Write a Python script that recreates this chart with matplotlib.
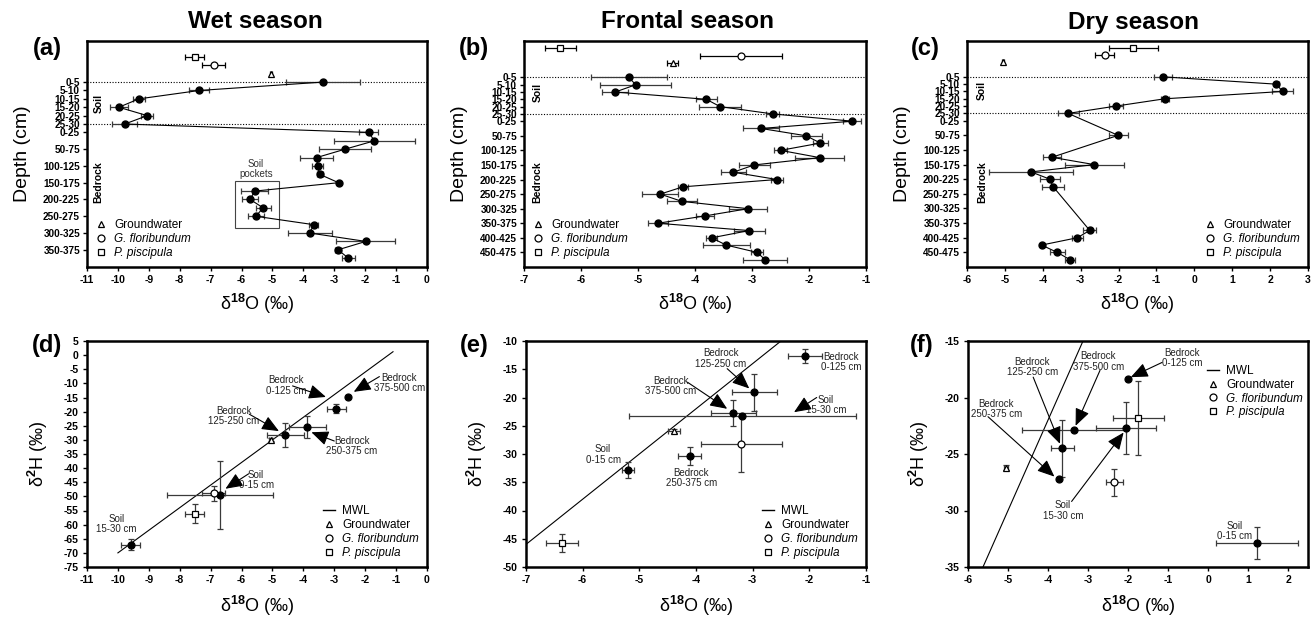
import numpy as np
import matplotlib.pyplot as plt
from matplotlib.lines import Line2D
from matplotlib.patches import Rectangle

plt.rcParams['font.family'] = ['Liberation Sans', 'DejaVu Sans']
plt.rcParams['font.weight'] = 'bold'
plt.rcParams['axes.unicode_minus'] = False
plt.rcParams['mathtext.fontset'] = 'custom'
plt.rcParams['mathtext.rm'] = 'Liberation Sans'
plt.rcParams['mathtext.bf'] = 'Liberation Sans:bold'

# depth classes (cm)
soil_depths = ['0-5', '5-10', '10-15', '15-20', '20-25', '25-30']
bedrock_depths = ['0-25', '25-50', '50-75', '75-100', '100-125', '125-150', '150-175',
                  '175-200', '200-225', '225-250', '250-275', '275-300', '300-325',
                  '325-350', '350-375', '375-400', '400-425', '425-450', '450-475', '475-500']

# d18O profiles, (value, sd)
wet_soil = [-3.37, -7.37, -9.32, -9.97, -9.05, -9.78]
wet_soil_sd = [1.2, 0.33, 0.2, 0.3, 0.2, 0.4]
wet_bed = [-1.89, -1.70, -2.65, -3.57, -3.54, -3.47, -2.86, -5.58, -5.72, -5.30,
           -5.54, -3.67, -3.79, -1.98, -2.88, -2.54]
wet_bed_sd = [0.3, 1.3, 0.85, 0.53, 0.18, 0.1, 0.05, 0.44, 0.25, 0.24,
              0.26, 0.15, 0.72, 0.96, 0.1, 0.2]
wet_other = [(-5.06, 0.03), (-6.90, 0.37), (-7.52, 0.3)]   # groundwater, G. flor., P. pisc.

fr_soil = [-5.16, -5.04, -5.40, -3.80, -3.56, -2.64]
fr_soil_sd = [0.66, 0.62, 0.23, 0.18, 0.37, 0.12]
fr_bed = [-1.24, -2.84, -2.05, -1.80, -2.50, -1.81, -2.96, -3.33, -2.56, -4.21,
          -4.61, -4.23, -3.07, -3.83, -4.65, -3.05, -3.71, -3.45, -2.91, -2.77]
fr_bed_sd = [0.16, 0.32, 0.27, 0.13, 0.12, 0.43, 0.27, 0.22, 0.11, 0.09,
             0.32, 0.27, 0.33, 0.16, 0.18, 0.27, 0.09, 0.41, 0.1, 0.38]
fr_other = [(-4.39, 0.1), (-3.20, 0.72), (-6.36, 0.28)]

nan = np.nan
dry_soil = [-0.83, 2.16, 2.33, -0.78, -2.07, -3.33]
dry_soil_sd = [0.24, 0.07, 0.27, 0.1, 0.18, 0.28]
dry_bed = [nan, nan, -2.01, nan, nan, -3.76, -2.64, -4.31, -3.81, -3.73,
           nan, nan, nan, nan, nan, -2.76, -3.09, -4.03, -3.62, -3.28]
dry_bed_sd = [nan, nan, 0.25, nan, nan, 0.24, 0.78, 1.1, 0.27, 0.29,
              nan, nan, nan, nan, nan, 0.17, 0.15, 0.02, 0.2, 0.14]
dry_other = [(-5.05, 0.03), (-2.37, 0.25), (-1.61, 0.64)]

# d18O vs d2H
iso_names = ['Soil 0-15', 'Soil 15-30', 'Bedrock 0-125', 'Bedrock 125-250', 'Bedrock 250-375',
             'Bedrock 375-500', 'Groundwater', 'G. floribundum', 'P. piscipula']
wet_o18 = [-6.69, -9.59, -2.93, -4.59, -3.87, -2.54, -5.06, -6.90, -7.52]
wet_h2 = [-49.6, -67.1, -18.95, -28.3, -25.6, -14.7, -29.9, -48.9, -56.1]
wet_o18_sd = [1.71, 0.32, 0.3, 0.6, 0.6, 0, 0.05, 0.37, 0.3]
wet_h2_sd = [12.0, 2.0, 1.7, 4.3, 3.9, 0, 0.5, 2.7, 3.3]

fr_o18 = [-5.20, -3.18, -2.08, -2.97, -4.11, -3.34, -4.39, -3.20, -6.36]
fr_h2 = [-32.8, -23.3, -12.7, -19.1, -30.4, -22.7, -25.9, -28.3, -45.7]
fr_o18_sd = [0.1, 2.0, 0.3, 0.4, 0.2, 0.39, 0.1, 0.72, 0.28]
fr_h2_sd = [1.4, 0, 1.2, 3.3, 1.6, 2.3, 0.4, 4.8, 1.6]

dry_o18 = [1.22, -2.05, -2.01, -3.64, -3.73, -3.36, -5.06, -2.34, -1.74]
dry_h2 = [-32.9, -22.7, -18.4, -24.5, -27.2, -22.9, -26.2, -27.5, -21.8]
dry_o18_sd = [1.03, 0.74, 0, 0.28, 0, 1.3, 0.05, 0.21, 0.64]
dry_h2_sd = [1.4, 2.33, 0, 2.55, 0, 0, 0.2, 1.2, 3.3]

# meteoric water line d2H = 8*d18O + 10, drawn over these d18O ranges
mwl_slope, mwl_icpt = 8.0, 10.0
wet_mwl = [-10.0, -1.1]
fr_mwl = [-7.0, -2.5]
dry_mwl = [-5.625, -3.125]

ecol = '#3a3a3a'
open_marks = ['^', 'o', 's']
other_labels = ['Groundwater', 'G. floribundum', 'P. piscipula']


def style_axes(ax):
    for s in ax.spines.values():
        s.set_linewidth(1.8)
    ax.tick_params(direction='out', length=3, width=1, labelsize=7.5, pad=3)


def make_legend(ax, with_mwl, **kw):
    h = []
    if with_mwl:
        h.append(Line2D([], [], color='k', lw=1, label='MWL'))
    for m, lab in zip(open_marks, other_labels):
        h.append(Line2D([], [], marker=m, ls='none', mfc='white', mec='k', mew=0.9, ms=5, label=lab))
    leg = ax.legend(handles=h, frameon=False, handlelength=1.0, handletextpad=0.6,
                    labelspacing=0.15, prop={'size': 8.5, 'weight': 'normal'}, **kw)
    for t in leg.get_texts():
        if t.get_text().startswith(('G.', 'P.')):
            t.set_fontstyle('italic')
    return leg


def depth_panel(ax, soil, soil_sd, bed, bed_sd, other, other_pos, xlim, ylim, soil_y, bed_y, txt_x):
    x = np.array(soil + bed, float)
    e = np.array(soil_sd + bed_sd, float)
    y = np.arange(len(x))
    ok = ~np.isnan(x)
    ax.errorbar(x[ok], y[ok], xerr=e[ok], fmt='none', ecolor=ecol, elinewidth=0.9,
                capsize=2.5, capthick=0.9, zorder=2)
    ax.plot(x[ok], y[ok], '-o', color='k', lw=0.8, ms=5, zorder=3)
    for (v, sd), p, m in zip(other, other_pos, open_marks):
        ax.errorbar(v, p, xerr=sd, fmt=m, mfc='white', mec='k', mew=0.9, ms=5,
                    ecolor='k', elinewidth=0.9, capsize=2.5, capthick=0.9, zorder=3)
    ax.axhline(0, ls=(0, (1, 1.5)), color='k', lw=0.8, zorder=1)
    ax.axhline(len(soil) - 1, ls=(0, (1, 1.5)), color='k', lw=0.8, zorder=1)
    nb = len(bed)
    ticks = list(range(len(soil))) + list(range(len(soil), len(soil) + nb, 2))
    labels = soil_depths + bedrock_depths[:nb:2]
    ax.set_yticks(ticks)
    ax.set_yticklabels(labels)
    ax.set_xlim(xlim)
    ax.set_xticks(np.arange(xlim[0], xlim[1] + 0.5, 1))
    ax.set_ylim(ylim)
    tr = ax.get_yaxis_transform()
    ax.text(txt_x, soil_y, 'Soil', transform=tr, rotation=90, ha='center', va='center', fontsize=7.5)
    ax.text(txt_x, bed_y, 'Bedrock', transform=tr, rotation=90, ha='center', va='center', fontsize=7.5)
    ax.set_ylabel('Depth (cm)', fontsize=14)
    ax.set_xlabel('δ$^{\\mathbf{18}}$O (‰)', fontsize=13)
    ax.xaxis.set_label_coords(0.5, -0.11)
    style_axes(ax)
    ax.tick_params(axis='y', labelsize=7.2, pad=2)


def iso_panel(ax, o18, h2, o18_sd, h2_sd, mwl, xlim, ylim, xticks, yticks, notes):
    xs = np.array(mwl)
    ax.plot(xs, mwl_slope * xs + mwl_icpt, color='k', lw=0.8, zorder=1)
    marks = ['o'] * 6 + open_marks
    for i in range(len(o18)):
        filled = i < 6
        ax.errorbar(o18[i], h2[i], xerr=o18_sd[i] or None, yerr=h2_sd[i] or None,
                    fmt=marks[i], ms=5,
                    mfc='k' if filled else 'white', mec='k', mew=0.9,
                    ecolor=ecol, elinewidth=0.9, capsize=2.5, capthick=0.9, zorder=3)
    for txt, (tx, ty), tail, head in notes:
        ax.text(tx, ty, txt, ha='center', va='center', fontsize=7, fontweight='normal',
                color='#222222', linespacing=1.05, zorder=4)
        if head is not None:
            ax.annotate('', xy=head, xytext=tail,
                        arrowprops=dict(arrowstyle='-|>,head_length=0.75,head_width=0.32',
                                        color='k', lw=0.8, shrinkA=0, shrinkB=0,
                                        mutation_scale=14), zorder=4)
    ax.set_xlim(xlim)
    ax.set_ylim(ylim)
    ax.set_xticks(xticks)
    ax.set_yticks(yticks)
    ax.set_ylabel('δ$^{\\mathbf{2}}$H (‰)', fontsize=13)
    ax.set_xlabel('δ$^{\\mathbf{18}}$O (‰)', fontsize=13)
    ax.xaxis.set_label_coords(0.5, -0.12)
    style_axes(ax)


fig = plt.figure(figsize=(13.14, 6.19), dpi=100)
W, H = 1314.0, 619.0


def add_ax(l, r, t, b):
    return fig.add_axes([l / W, 1 - b / H, (r - l) / W, (b - t) / H])


ax_a = add_ax(87, 427, 41, 267)
ax_b = add_ax(524, 866, 41, 267)
ax_c = add_ax(967, 1308, 41, 267)
ax_d = add_ax(87, 427, 341, 567)
ax_e = add_ax(526, 866, 341, 567)
ax_f = add_ax(968, 1308, 341, 567)

depth_panel(ax_a, wet_soil, wet_soil_sd, wet_bed, wet_bed_sd, wet_other, [-1, -2, -3],
            (-11, 0), (22.05, -4.9), 2.6, 11.9, 0.033)
depth_panel(ax_b, fr_soil, fr_soil_sd, fr_bed, fr_bed_sd, fr_other, [-2, -3, -4],
            (-7, -1), (26.0, -5.0), 2.0, 14.3, 0.04)
depth_panel(ax_c, dry_soil, dry_soil_sd, dry_bed, dry_bed_sd, dry_other, [-2, -3, -4],
            (-6, 3), (26.0, -4.9), 1.9, 14.4, 0.044)

ax_a.add_patch(Rectangle((-6.2, 11.85), 1.42, 5.55, fill=False, edgecolor='#444444', lw=0.8, zorder=1))
ax_a.text(-5.54, 10.37, 'Soil\npockets', ha='center', va='center', fontsize=7,
          fontweight='normal', color='#333333', linespacing=1.05)

make_legend(ax_a, False, loc='lower left', bbox_to_anchor=(0.0, 0.0), borderaxespad=0.3)
make_legend(ax_b, False, loc='lower left', bbox_to_anchor=(0.0, 0.0), borderaxespad=0.3)
make_legend(ax_c, False, loc='lower right', bbox_to_anchor=(1.0, 0.0), borderaxespad=0.3)

wet_notes = [
    ('Bedrock\n0-125 cm', (-4.55, -10.7), (-4.35, -10.9), (-3.27, -14.8)),
    ('Bedrock\n375-500 cm', (-0.89, -9.9), (-1.54, -7.6), (-2.37, -13.0)),
    ('Bedrock\n125-250 cm', (-6.25, -21.5), (-5.75, -20.9), (-4.79, -26.9)),
    ('Bedrock\n250-375 cm', (-2.43, -32.2), (-3.0, -30.4), (-3.74, -27.3)),
    ('Soil\n0-15 cm', (-5.53, -44.3), (-5.77, -42.0), (-6.52, -47.3)),
    ('Soil\n15-30 cm', (-10.05, -59.7), None, None),
]
fr_notes = [
    ('Bedrock\n0-125 cm', (-1.44, -13.7), None, None),
    ('Bedrock\n125-250 cm', (-3.56, -13.1), (-3.45, -14.9), (-3.06, -18.4)),
    ('Bedrock\n375-500 cm', (-4.45, -18.0), (-4.15, -17.3), (-3.45, -22.0)),
    ('Soil\n15-30 cm', (-1.71, -21.3), (-1.87, -20.0), (-2.27, -22.6)),
    ('Soil\n0-15 cm', (-5.64, -30.1), None, None),
    ('Bedrock\n250-375 cm', (-4.08, -34.2), None, None),
]
dry_notes = [
    ('Bedrock\n0-125 cm', (-0.65, -16.5), (-1.15, -16.9), (-1.93, -18.2)),
    ('Bedrock\n375-500 cm', (-2.74, -16.8), (-2.70, -17.6), (-3.31, -22.5)),
    ('Bedrock\n125-250 cm', (-4.39, -17.3), (-4.37, -18.2), (-3.70, -24.1)),
    ('Bedrock\n250-375 cm', (-5.29, -21.0), (-5.5, -21.7), (-3.84, -27.0)),
    ('Soil\n15-30 cm', (-3.63, -30.0), (-3.41, -29.2), (-2.11, -23.1)),
    ('Soil\n0-15 cm', (0.66, -31.8), None, None),
]

iso_panel(ax_d, wet_o18, wet_h2, wet_o18_sd, wet_h2_sd, wet_mwl, (-11, 0), (-75, 5),
          np.arange(-11, 1, 1), np.arange(-75, 6, 5), wet_notes)
iso_panel(ax_e, fr_o18, fr_h2, fr_o18_sd, fr_h2_sd, fr_mwl, (-7, -1), (-50, -10),
          np.arange(-7, 0, 1), np.arange(-50, -9, 5), fr_notes)
iso_panel(ax_f, dry_o18, dry_h2, dry_o18_sd, dry_h2_sd, dry_mwl, (-6, 2.5), (-35, -15),
          np.arange(-6, 3, 1), np.arange(-35, -14, 5), dry_notes)

make_legend(ax_d, True, loc='lower right', bbox_to_anchor=(1.0, 0.0), borderaxespad=0.3)
make_legend(ax_e, True, loc='lower right', bbox_to_anchor=(1.0, 0.0), borderaxespad=0.3)
make_legend(ax_f, True, loc='upper right', bbox_to_anchor=(1.01, 0.93), borderaxespad=0.3)

for ax in [ax_a, ax_b, ax_c]:
    ax.yaxis.set_label_coords(-0.165, 0.5)
for ax in [ax_d, ax_e, ax_f]:
    ax.yaxis.set_label_coords(-0.11, 0.5)

for x, txt in [(255, 'Wet season'), (687, 'Frontal season'), (1133, 'Dry season')]:
    fig.text(x / W, 1 - 22 / H, txt, ha='center', va='center', fontsize=17.5)
for x, y, txt in [(47, 48, '(a)'), (474, 48, '(b)'), (925, 48, '(c)'),
                  (47, 345, '(d)'), (474, 345, '(e)'), (922, 345, '(f)')]:
    fig.text(x / W, 1 - y / H, txt, ha='center', va='center', fontsize=17)

fig.savefig('out.png', dpi=100)
